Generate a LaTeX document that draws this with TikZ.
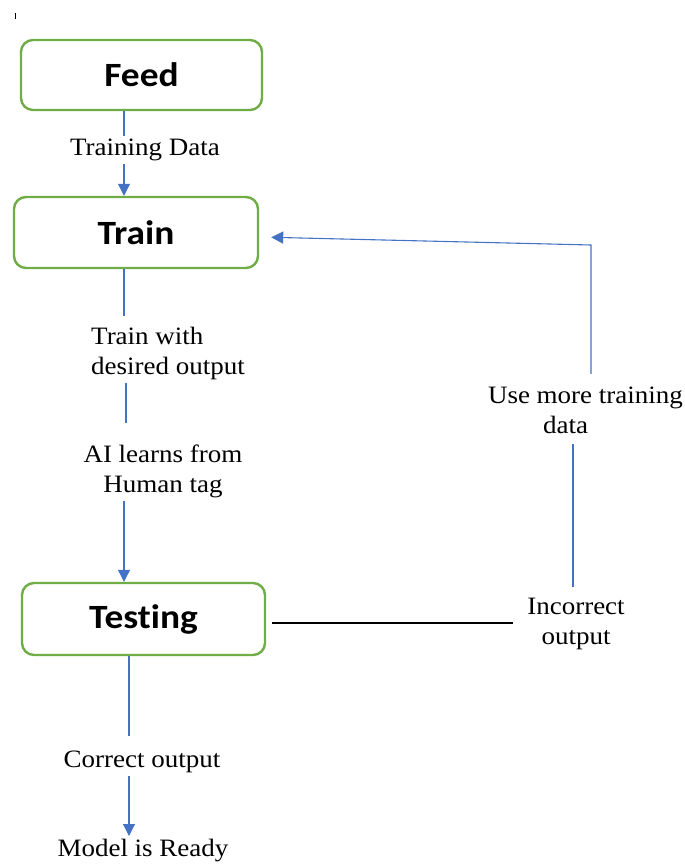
\documentclass[tikz,border=0pt]{standalone}
\usepackage{fontspec}
\setmainfont{Liberation Serif}
\newfontfamily\boxfont[FakeStretch=1.1,Ligatures={NoCommon,NoRare,NoContextual}]{Carlito}
\newfontfamily\labfont[FakeStretch=1.08]{Liberation Serif}
\usetikzlibrary{arrows.meta}
\definecolor{boxgreen}{HTML}{70AD47}
\definecolor{flowblue}{HTML}{4472C4}
\begin{document}
\begin{tikzpicture}[x=1pt,y=-1pt,
  stepbox/.style={draw=boxgreen, line width=2.4pt, rounded corners=12pt,
    inner sep=0pt, font=\boxfont\bfseries\fontsize{34}{36}\selectfont},
  lab/.style={font=\labfont\fontsize{25}{30}\selectfont, inner sep=3pt, align=center},
  flow/.style={draw=flowblue, line width=1.1pt},
  flowarrow/.style={flow, -{Triangle[length=12pt,width=12pt]}},
  plain/.style={draw=black, line width=1.1pt}]
\useasboundingbox (0,0) rectangle (685,865);
% tiny tick mark
\draw[line width=0.8pt] (15,13) -- (15,19);
% boxes
\node[stepbox, minimum width=241pt, minimum height=70pt] (feed) at (141.5,75) {Feed};
\node[stepbox, minimum width=244pt, minimum height=71pt] (train) at (136,232.5) {Train};
\node[stepbox, minimum width=243pt, minimum height=72pt] (testing) at (143.5,619) {Testing};
% labels
\node[lab] (td) at (145,150) {Training Data};
\node[lab, align=left, anchor=west] (twd) at (88,353) {Train with\\desired output};
\node[lab] (ai) at (163,471.5) {AI learns from\\Human tag};
\node[lab] (co) at (142,762) {Correct output};
\node[lab, anchor=north] (mr) at (143,836) {Model is Ready};
\node[lab] (umt) at (585.5,410.5) {Use more training\\data\hspace*{40pt}};
\node[lab] (inc) at (576,623.5) {Incorrect\\output};
% helper coordinates
\coordinate (xa) at (124,0);
\coordinate (xb) at (126,0);
\coordinate (xc) at (129,0);
\coordinate (xd) at (573,0);
\coordinate (xe) at (591,0);
\coordinate (yinc) at (0,623);
\coordinate (ytr) at (0,237);
\coordinate (corner) at (591,245);
% connectors
\draw[flow] (feed.south -| xa) -- (td.north -| xa);
\draw[flowarrow] (td.south -| xa) -- (train.north -| xa);
\draw[flow, shorten >=7pt] (train.south -| xa) -- (twd.north -| xa);
\draw[flow, shorten >=19pt] (twd.south -| xb) -- (ai.north -| xb);
\draw[flowarrow] (ai.south -| xa) -- (testing.north -| xa);
\draw[flow, shorten >=12pt] (testing.south -| xc) -- (co.north -| xc);
\draw[flowarrow] (co.south -| xc) -- (mr.north -| xc);
\draw[plain, shorten <=6pt, shorten >=11pt] (testing.east |- yinc) -- (inc.west |- yinc);
\draw[flow, shorten <=7pt, shorten >=7pt] (inc.north -| xd) -- (umt.south -| xd);
\draw[flowarrow, shorten <=10pt, shorten >=12pt] (umt.north -| xe) -- (corner) -- (train.east |- ytr);
\end{tikzpicture}
\end{document}
